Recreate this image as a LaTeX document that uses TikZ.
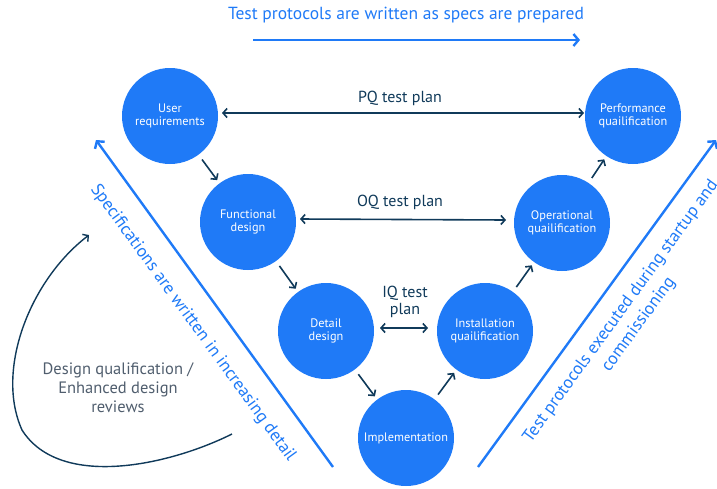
\documentclass[tikz,border=0pt]{standalone}
\usepackage{fontspec}
\setmainfont{PT Sans}
\usetikzlibrary{arrows.meta,calc}
\definecolor{vblue}{RGB}{31,122,247}
\definecolor{vnavy}{RGB}{16,58,90}
\definecolor{vgray}{RGB}{80,94,110}
\begin{document}
\begin{tikzpicture}[x=1pt,y=-1pt,
  stage/.style={circle,fill=vblue,minimum size=96pt,inner sep=0pt,outer sep=0pt,
    text=white,align=center,font=\fontsize{12.3}{13.5}\selectfont},
  flow/.style={draw=vnavy,line width=1.6pt,-{Straight Barb[length=4pt,width=9pt]},
    shorten <=6pt,shorten >=4pt},
  plan/.style={draw=vnavy,line width=1.6pt,{Straight Barb[length=4pt,width=9pt]}-{Straight Barb[length=4pt,width=9pt]}},
  planlabel/.style={text=vnavy,align=center,font=\fontsize{16}{16.5}\selectfont},
  bigline/.style={draw=vblue,line width=2.4pt,-{Straight Barb[length=5pt,width=12pt]}},
  bluetext/.style={text=vblue,align=center,font=\fontsize{17.5}{22}\selectfont},
]
\useasboundingbox (0,0) rectangle (717,488);

% stages of the V
\node[stage] (ur) at (170,116) {User\\requirements};
\node[stage] (fd) at (248,222) {Functional\\design};
\node[stage] (dd) at (326,331) {Detail\\design};
\node[stage] (im) at (406,438) {Implementation};
\node[stage] (iq) at (485,331) {Installation\\quailification};
\node[stage] (oq) at (562,223) {Operational\\quailification};
\node[stage] (pq) at (633,116) {Performance\\quailification};

% flow through the V
\draw[flow] (ur) -- (fd);
\draw[flow] (fd) -- (dd);
\draw[flow] (dd) -- (im);
\draw[flow] (im) -- (iq);
\draw[flow] (iq) -- (oq);
\draw[flow] (oq) -- (pq);

% test plans
\draw[plan] ([xshift=4pt,yshift=3pt]ur.east) -- ([xshift=-1pt,yshift=3pt]pq.west);
\node[planlabel] (pqlbl) at (400,98) {PQ test plan};
\draw[plan] ([xshift=4pt,yshift=3pt]fd.east) -- ([xshift=-8pt,yshift=3pt]oq.west);
\node[planlabel] (oqlbl) at (400,202) {OQ test plan};
\draw[plan] ([xshift=6pt,yshift=3pt]dd.east) -- ([xshift=-9pt,yshift=3pt]iq.west);
\node[planlabel] (iqlbl) at (405,302) {IQ test\\plan};

% top arrow
\node[bluetext] (toptxt) at (406,15) {Test protocols are written as specs are prepared};
\coordinate (ta) at (253,40);
\coordinate (tb) at (580,40);
\draw[bigline] (ta) -- (tb);

% left leg
\coordinate (ls) at (333,467);
\coordinate (le) at (96,140);
\draw[bigline] (ls) -- (le);
\node[bluetext,rotate=-54] (lefttxt) at (193,323) {Specifications are written in increasing detail};

% right leg
\coordinate (rs) at (478,467);
\coordinate (re) at (716,140);
\draw[bigline] (rs) -- (re);
\node[bluetext,rotate=54] (righttxt) at (630,318) {Test protocols executed during startup and\\commissioning};

% design qualification loop
\node[text=vgray,align=center,font=\fontsize{16.5}{19}\selectfont] (dq) at (118,388)
  {Design qualification /\\Enhanced design\\reviews};
\coordinate (ca) at (232,434);
\coordinate (cm) at (22,430);
\coordinate (cb) at (89,235);
\draw[draw=vnavy,line width=1.4pt,-{Straight Barb[length=4pt,width=9pt]}]
  (ca) .. controls (170,465) and (60,490) .. (cm)
       .. controls (-5,370) and (30,280) .. (cb);
\end{tikzpicture}
\end{document}
